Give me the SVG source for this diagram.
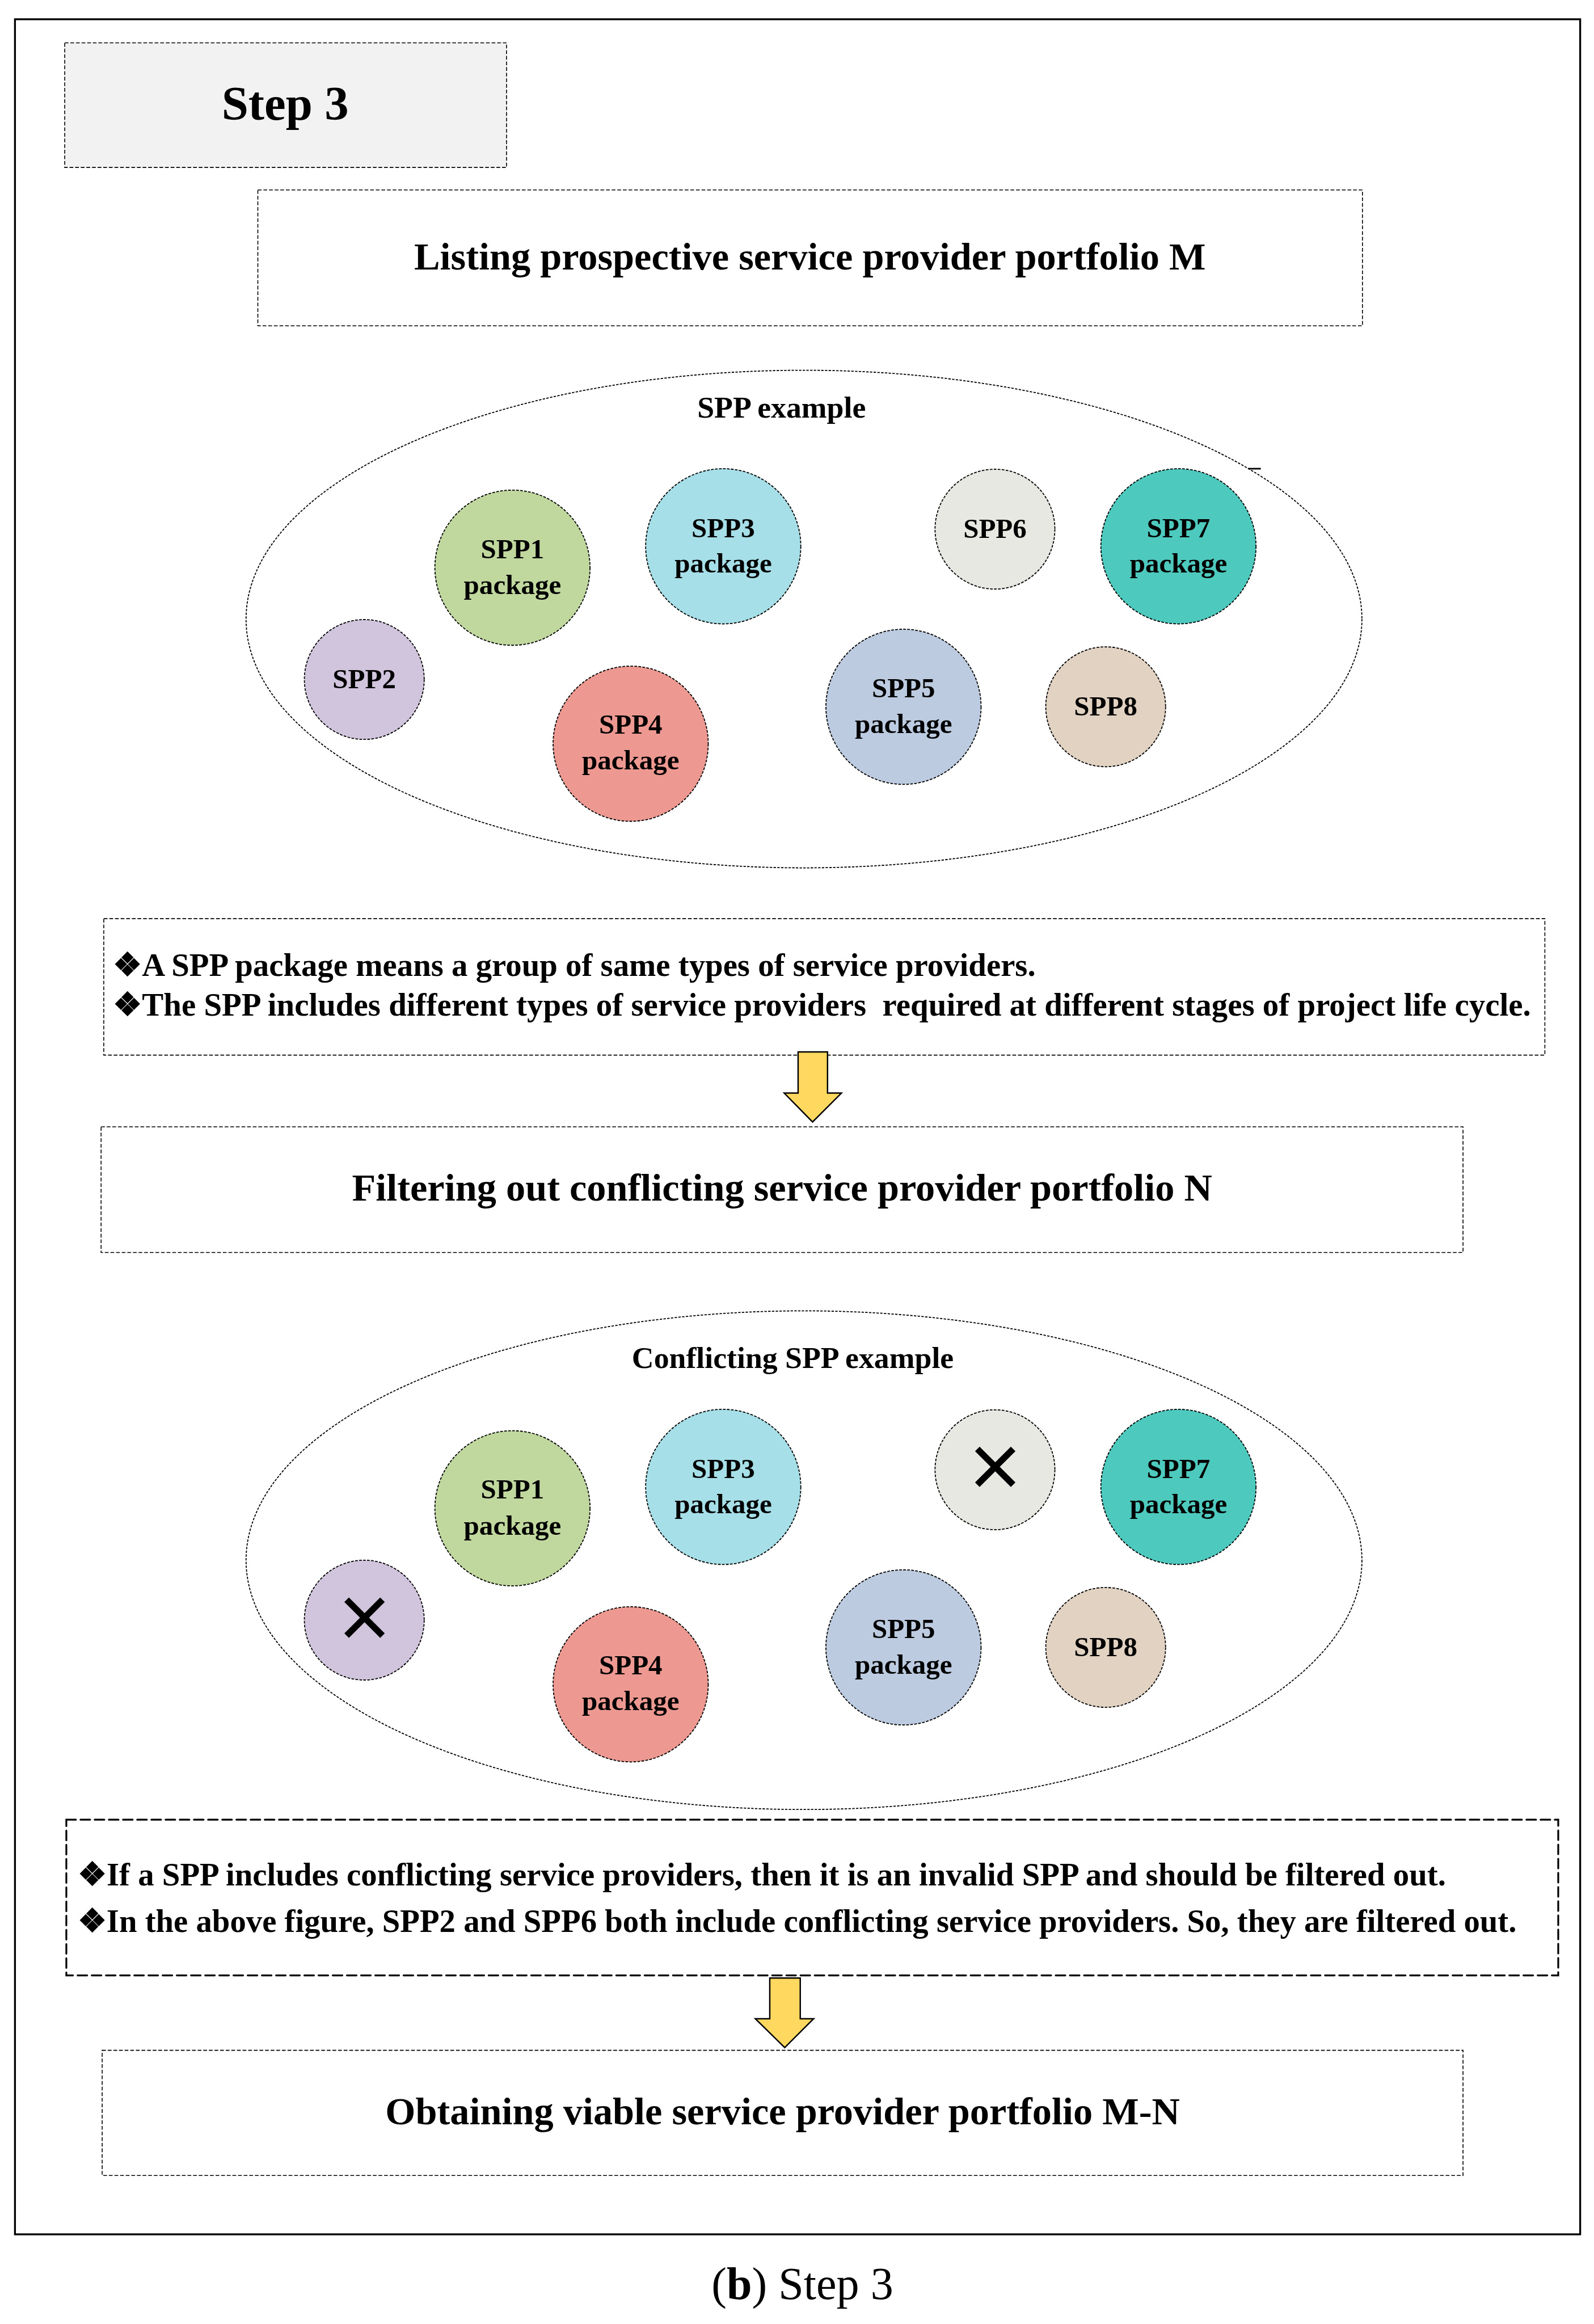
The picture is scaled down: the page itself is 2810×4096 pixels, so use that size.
<svg xmlns="http://www.w3.org/2000/svg" width="2810" height="4096" viewBox="0 0 2810 4096">
<defs>
<style>
.t{font-family:"Liberation Serif","Times New Roman",serif;font-weight:bold;fill:#000}
.title{font-size:72.5px;text-anchor:middle}
.note{font-size:60px}
.lbl{font-size:52px;text-anchor:middle}
.sub{font-size:57px;text-anchor:middle}
.box{fill:#fff;stroke:#000;stroke-width:1.7;stroke-dasharray:7 3.5}
.ell{fill:none;stroke:#000;stroke-width:1.9;stroke-dasharray:4.5 2.5}
.c{stroke:#000;stroke-width:1.9;stroke-dasharray:5 2.5}
.arrow{fill:#ffd95f;stroke:#000;stroke-width:2.6;stroke-linejoin:miter}
.x{stroke:#000;stroke-width:12;stroke-linecap:butt}
</style>
</defs>
<rect width="2810" height="4096" fill="#fff"/>
<g transform="scale(0.943)">
<rect id="frame" x="28" y="36" width="2926" height="4140" fill="none" stroke="#000" stroke-width="3.5"/>

<g id="step3">
<rect x="121" y="80" width="826" height="233" fill="#f2f2f2" stroke="#000" stroke-width="1.7" stroke-dasharray="7 3.5"/>
<text class="t" x="533" y="224" font-size="90" text-anchor="middle">Step 3</text>
</g>

<g id="listing">
<rect class="box" x="482" y="355" width="2065" height="254"/>
<text class="t title" x="1514" y="504">Listing prospective service provider portfolio M</text>
</g>

<g id="spp-example">
<ellipse class="ell" cx="1503" cy="1157" rx="1043" ry="465"/>
<text class="t sub" x="1461" y="781">SPP example</text>
<line x1="2334" y1="876" x2="2357" y2="876" stroke="#000" stroke-width="3"/>
</g>
<g id="a-spp1"><circle class="c" cx="958" cy="1061" r="145" fill="#c0d89e"/><text class="t lbl" x="958" y="1043">SPP1</text><text class="t lbl" x="958" y="1110">package</text></g>
<g id="a-spp2"><circle class="c" cx="681" cy="1270" r="112" fill="#d1c4dd"/><text class="t lbl" x="681" y="1286">SPP2</text></g>
<g id="a-spp3"><circle class="c" cx="1352" cy="1021" r="145" fill="#a6dfe8"/><text class="t lbl" x="1352" y="1004">SPP3</text><text class="t lbl" x="1352" y="1070">package</text></g>
<g id="a-spp4"><circle class="c" cx="1179" cy="1390" r="145" fill="#ed9890"/><text class="t lbl" x="1179" y="1371">SPP4</text><text class="t lbl" x="1179" y="1438">package</text></g>
<g id="a-spp5"><circle class="c" cx="1689" cy="1321" r="145" fill="#bccbdf"/><text class="t lbl" x="1689" y="1303">SPP5</text><text class="t lbl" x="1689" y="1370">package</text></g>
<g id="a-spp6"><circle class="c" cx="1860" cy="989" r="112" fill="#e7e8e2"/><text class="t lbl" x="1860" y="1005">SPP6</text></g>
<g id="a-spp7"><circle class="c" cx="2203" cy="1021" r="145" fill="#4ec9be"/><text class="t lbl" x="2203" y="1004">SPP7</text><text class="t lbl" x="2203" y="1070">package</text></g>
<g id="a-spp8"><circle class="c" cx="2067" cy="1321" r="112" fill="#e2d2c2"/><text class="t lbl" x="2067" y="1337">SPP8</text></g>

<g id="note1">
<rect class="box" x="194" y="1717" width="2694" height="255"/>
<text class="t note" x="211" y="1824" textLength="1725" lengthAdjust="spacingAndGlyphs">❖A SPP package means a group of same types of service providers.</text>
<text class="t note" x="211" y="1898" xml:space="preserve" textLength="2651" lengthAdjust="spacingAndGlyphs">❖The SPP includes different types of service providers  required at different stages of project life cycle.</text>
</g>

<g id="filtering">
<rect class="box" x="189" y="2106" width="2546" height="235"/>
<text class="t title" x="1462" y="2244">Filtering out conflicting service provider portfolio N</text>
</g>

<g id="conflict-example">
<ellipse class="ell" cx="1503" cy="2916" rx="1043" ry="466"/>
<text class="t sub" x="1482" y="2557">Conflicting SPP example</text>
</g>
<g id="b-spp1"><circle class="c" cx="958" cy="2819" r="145" fill="#c0d89e"/><text class="t lbl" x="958" y="2801">SPP1</text><text class="t lbl" x="958" y="2868">package</text></g>
<g id="b-spp2"><circle class="c" cx="681" cy="3028" r="112" fill="#d1c4dd"/><line class="x" x1="648" y1="2990" x2="715" y2="3057"/><line class="x" x1="715" y1="2990" x2="648" y2="3057"/></g>
<g id="b-spp3"><circle class="c" cx="1352" cy="2779" r="145" fill="#a6dfe8"/><text class="t lbl" x="1352" y="2762">SPP3</text><text class="t lbl" x="1352" y="2828">package</text></g>
<g id="b-spp4"><circle class="c" cx="1179" cy="3148" r="145" fill="#ed9890"/><text class="t lbl" x="1179" y="3129">SPP4</text><text class="t lbl" x="1179" y="3196">package</text></g>
<g id="b-spp5"><circle class="c" cx="1689" cy="3079" r="145" fill="#bccbdf"/><text class="t lbl" x="1689" y="3061">SPP5</text><text class="t lbl" x="1689" y="3128">package</text></g>
<g id="b-spp6"><circle class="c" cx="1860" cy="2747" r="112" fill="#e7e8e2"/><line class="x" x1="1827" y1="2708" x2="1894" y2="2775"/><line class="x" x1="1894" y1="2708" x2="1827" y2="2775"/></g>
<g id="b-spp7"><circle class="c" cx="2203" cy="2779" r="145" fill="#4ec9be"/><text class="t lbl" x="2203" y="2762">SPP7</text><text class="t lbl" x="2203" y="2828">package</text></g>
<g id="b-spp8"><circle class="c" cx="2067" cy="3079" r="112" fill="#e2d2c2"/><text class="t lbl" x="2067" y="3095">SPP8</text></g>

<g id="note2">
<rect x="124" y="3401" width="2789" height="291" fill="#fff" stroke="#000" stroke-width="3.4" stroke-dasharray="18 8.5" stroke-linecap="round"/>
<text class="t note" x="145" y="3524" textLength="2558" lengthAdjust="spacingAndGlyphs">❖If a SPP includes conflicting service providers, then it is an invalid SPP and should be filtered out.</text>
<text class="t note" x="145" y="3611" textLength="2690" lengthAdjust="spacingAndGlyphs">❖In the above figure, SPP2 and SPP6 both include conflicting service providers. So, they are filtered out.</text>
</g>

<g id="obtaining">
<rect class="box" x="191" y="3832" width="2544" height="234"/>
<text class="t title" x="1463" y="3970">Obtaining viable service provider portfolio M-N</text>
</g>

<g id="connectors">
<polygon class="arrow" points="1492,1966 1547,1966 1547,2043 1573,2043 1519,2097 1466,2043 1492,2043"/>
<polygon class="arrow" points="1439,3697 1496,3697 1496,3773 1521,3773 1467,3827 1412,3773 1439,3773"/>
</g>

<text x="1500" y="4297" font-family="'Liberation Serif','Times New Roman',serif" font-size="85" text-anchor="middle">(<tspan font-weight="bold">b</tspan>) Step 3</text>
</g>
</svg>
